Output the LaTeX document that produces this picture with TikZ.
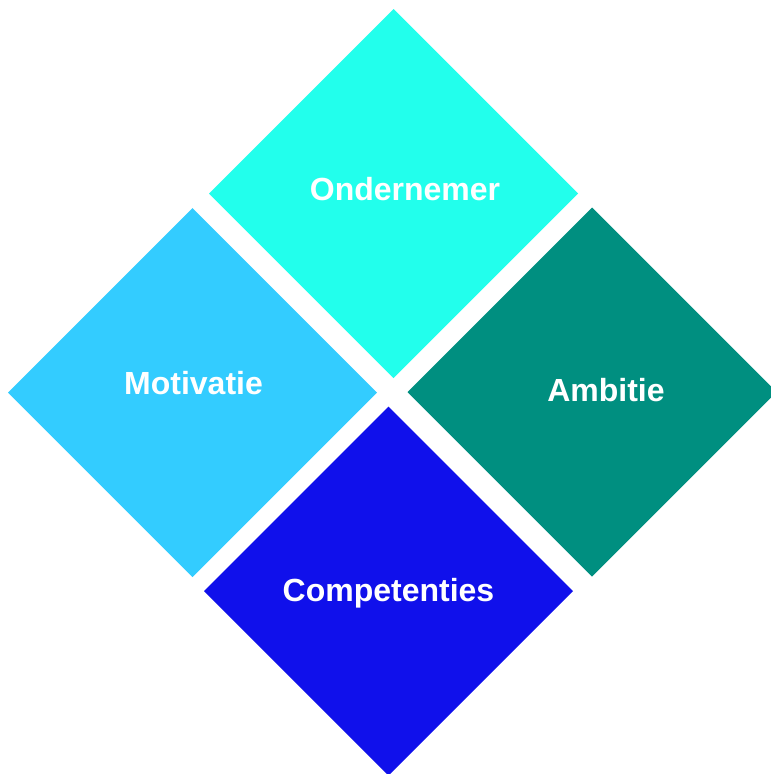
\documentclass[tikz,border=0pt]{standalone}
\usepackage{fontspec}
\setmainfont{Liberation Sans}
\definecolor{cTop}{RGB}{34,255,236}
\definecolor{cLeft}{RGB}{51,204,255}
\definecolor{cRight}{RGB}{0,143,128}
\definecolor{cBot}{RGB}{16,16,235}
\begin{document}
\begin{tikzpicture}[x=1pt,y=-1pt,
  diam/.style={draw=none},
  lbl/.style={text=white,font=\bfseries\fontsize{32}{38}\selectfont,anchor=base,inner sep=0pt}]
\useasboundingbox (0,0) rectangle (771,774);
\clip (0,0) rectangle (771,774);
\def\h{184.5}
\fill[cTop,diam] (393.5,193.5) +(0,-\h) -- +(\h,0) -- +(0,\h) -- +(-\h,0) -- cycle;
\fill[cLeft,diam] (192.5,392.5) +(0,-\h) -- +(\h,0) -- +(0,\h) -- +(-\h,0) -- cycle;
\fill[cRight,diam] (592,392) +(0,-\h) -- +(\h,0) -- +(0,\h) -- +(-\h,0) -- cycle;
\fill[cBot,diam] (388.5,591) +(0,-\h) -- +(\h,0) -- +(0,\h) -- +(-\h,0) -- cycle;
\node[lbl] (t1) at (405,200) {Ondernemer};
\node[lbl] (t2) at (193.5,394) {Motivatie};
\node[lbl] (t3) at (606,401) {Ambitie};
\node[lbl] (t4) at (388.5,601) {Competenties};
\end{tikzpicture}
\end{document}
